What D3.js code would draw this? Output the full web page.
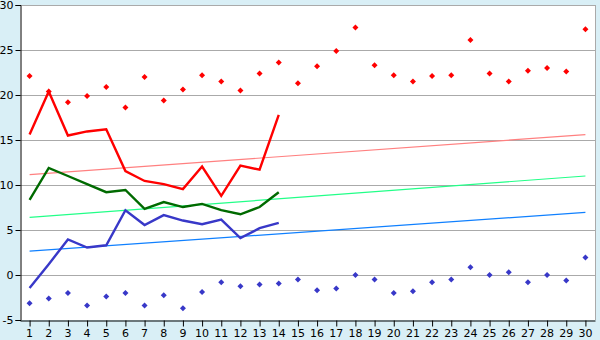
<!DOCTYPE html>
<html>
<head>
<meta charset="utf-8">
<script src="https://cdn.jsdelivr.net/npm/d3@7"></script>
<style>
  html, body { margin: 0; padding: 0; background: #d9eff6; }
  svg { display: block; }
  .tick text { font-family: "DejaVu Sans", Verdana, sans-serif; font-size: 11px; fill: #000; }
</style>
</head>
<body>
<svg id="chart" width="600" height="340"></svg>
<script>
// day numbers along the bottom
const days = d3.range(1, 31);
const yTicks = [-5, 0, 5, 10, 15, 20, 25, 30];

// scattered daily maxima / minima
const maxPoints = [22.1, 20.4, 19.2, 19.9, 20.9, 18.6, 22.0, 19.4, 20.6, 22.2,
                   21.5, 20.5, 22.4, 23.6, 21.3, 23.2, 24.9, 27.5, 23.3, 22.2,
                   21.5, 22.1, 22.2, 26.1, 22.4, 21.5, 22.7, 23.0, 22.6, 27.3];
const minPoints = [-3.15, -2.6, -2.0, -3.4, -2.4, -2.0, -3.4, -2.25, -3.7, -1.9,
                   -0.8, -1.25, -1.05, -0.95, -0.5, -1.7, -1.5, 0.0, -0.5, -2.0,
                   -1.8, -0.8, -0.5, 0.85, 0.0, 0.3, -0.8, 0.0, -0.6, 1.95];

// the three lines covering the first 14 days
const redLine   = [15.6, 20.4, 15.5, 15.95, 16.2, 11.55, 10.45, 10.1, 9.55, 12.05, 8.8, 12.15, 11.7, 17.8];
const greenLine = [8.35, 11.9, 11.0, 10.1, 9.2, 9.45, 7.35, 8.1, 7.55, 7.9, 7.2, 6.75, 7.55, 9.2];
const blueLine  = [-1.45, 1.2, 3.95, 3.05, 3.3, 7.2, 5.55, 6.65, 6.05, 5.65, 6.15, 4.1, 5.2, 5.8];

// trend lines: value at day 1 and at day 30
const redTrend   = [11.15, 15.6];
const greenTrend = [6.4, 11.0];
const blueTrend  = [2.65, 6.95];

const svg = d3.select('#chart');
const m = { left: 20, right: 595, top: 5, bottom: 320 };

const x = d3.scaleBand()
    .domain(days)
    .range([m.left, m.right]);
const cx = d => x(d) + x.bandwidth() / 2;

const y = d3.scaleLinear()
    .domain([-5, 30])
    .range([m.bottom, m.top]);

// plot background
svg.append('rect')
    .attr('x', m.left).attr('y', m.top)
    .attr('width', m.right - m.left).attr('height', m.bottom - m.top)
    .attr('fill', '#fff');

// grid
svg.append('g')
    .selectAll('line')
    .data(yTicks.filter(v => v > -5))
    .enter()
    .append('line')
    .attr('x1', m.left).attr('x2', m.right)
    .attr('y1', d => Math.round(y(d)) + 0.5)
    .attr('y2', d => Math.round(y(d)) + 0.5)
    .attr('stroke', '#aaa');

svg.append('line')
    .attr('x1', m.right + 0.5).attr('x2', m.right + 0.5)
    .attr('y1', m.top).attr('y2', m.bottom)
    .attr('stroke', '#aaa');

// trend lines
const trends = [
    { v: redTrend, color: '#ff8080' },
    { v: greenTrend, color: '#22ff88' },
    { v: blueTrend, color: '#1080ff' }
];
svg.append('g')
    .selectAll('line')
    .data(trends)
    .enter()
    .append('line')
    .attr('x1', cx(days[0])).attr('x2', cx(days[days.length - 1]))
    .attr('y1', d => y(d.v[0]))
    .attr('y2', d => y(d.v[1]))
    .attr('stroke', d => d.color)
    .attr('stroke-width', 1.2);

// main lines
const line = d3.line()
    .x((d, i) => cx(days[i]))
    .y(d => y(d));

const lines = [
    { v: redLine, color: '#ff0000' },
    { v: greenLine, color: '#006a00' },
    { v: blueLine, color: '#3838c8' }
];
svg.append('g')
    .selectAll('path')
    .data(lines)
    .enter()
    .append('path')
    .attr('d', d => line(d.v))
    .attr('fill', 'none')
    .attr('stroke', d => d.color)
    .attr('stroke-width', 2.4);

// diamond markers
const diamond = {
    draw(ctx, size) {
        const r = Math.sqrt(size / 2);
        ctx.moveTo(0, -r);
        ctx.lineTo(r, 0);
        ctx.lineTo(0, r);
        ctx.lineTo(-r, 0);
        ctx.closePath();
    }
};
const marker = d3.symbol().type(diamond).size(18);

const scatter = [
    { v: maxPoints, color: '#ff0000' },
    { v: minPoints, color: '#3838c8' }
];
scatter.forEach(s => {
    svg.append('g')
        .selectAll('path')
        .data(s.v)
        .enter()
        .append('path')
        .attr('d', marker)
        .attr('transform', (d, i) => `translate(${cx(days[i])},${y(d)})`)
        .attr('fill', s.color);
});

// axes
const yAxis = svg.append('g')
    .attr('transform', `translate(${m.left + 0.5},0)`)
    .call(d3.axisLeft(y).tickValues(yTicks).tickSize(5).tickPadding(2)
        .tickFormat(d => String(d)));
yAxis.select('.domain').attr('stroke', '#000');

const xAxis = svg.append('g')
    .attr('transform', `translate(0,${m.bottom + 0.5})`)
    .call(d3.axisBottom(x).tickSize(6).tickPadding(3).tickSizeOuter(0));
xAxis.select('.domain').attr('stroke', '#000');
xAxis.selectAll('.tick line').attr('transform', 'translate(0.5,0)');
</script>
</body>
</html>
